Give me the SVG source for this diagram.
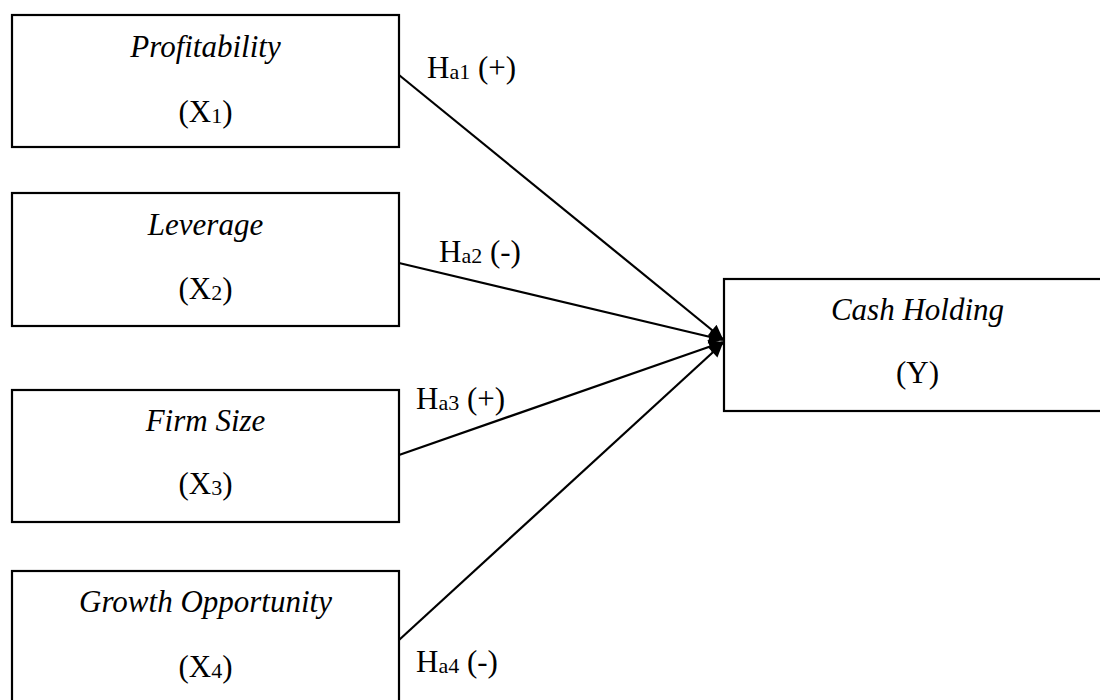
<svg xmlns="http://www.w3.org/2000/svg" width="1100" height="700" viewBox="0 0 1100 700">
<style>
.box{fill:#fff;stroke:#000;stroke-width:2.2}
.t{font-family:"Liberation Serif","Times New Roman",serif;font-size:31px;fill:#000;text-anchor:middle}
.it{font-style:italic}
.lbl{font-family:"Liberation Serif","Times New Roman",serif;font-size:31px;fill:#000}
.sub{font-size:22px}
.conn{stroke:#000;stroke-width:2.2;fill:none;marker-end:url(#ah)}
</style>
<defs>
<marker id="ah" viewBox="0 0 10 10" refX="10" refY="5" markerWidth="17" markerHeight="14" markerUnits="userSpaceOnUse" orient="auto">
<path d="M0,0 L10,5 L0,10 z" fill="#000"/>
</marker>
</defs>
<rect width="1100" height="700" fill="#fff"/>
<g id="connectors">
<line class="conn" x1="399" y1="75" x2="723" y2="339"/>
<line class="conn" x1="399" y1="263" x2="723" y2="340"/>
<line class="conn" x1="399" y1="455" x2="723" y2="342"/>
<line class="conn" x1="399" y1="640" x2="723" y2="343"/>
<text class="lbl" x="427" y="78">H<tspan class="sub" dy="1">a1</tspan><tspan dy="-1"> (+)</tspan></text>
<text class="lbl" x="439" y="262">H<tspan class="sub" dy="1">a2</tspan><tspan dy="-1"> (-)</tspan></text>
<text class="lbl" x="416" y="409">H<tspan class="sub" dy="1">a3</tspan><tspan dy="-1"> (+)</tspan></text>
<text class="lbl" x="416" y="672">H<tspan class="sub" dy="1">a4</tspan><tspan dy="-1"> (-)</tspan></text>
</g>
<g id="node-x1">
<rect class="box" x="12" y="15" width="387" height="132"/>
<text class="t it" x="205.5" y="57">Profitability</text>
<text class="t" x="205.5" y="122">(X<tspan class="sub" dy="1">1</tspan><tspan dy="-1">)</tspan></text>
</g>
<g id="node-x2">
<rect class="box" x="12" y="193" width="387" height="133"/>
<text class="t it" x="205.5" y="235">Leverage</text>
<text class="t" x="205.5" y="299">(X<tspan class="sub" dy="1">2</tspan><tspan dy="-1">)</tspan></text>
</g>
<g id="node-x3">
<rect class="box" x="12" y="390" width="387" height="132"/>
<text class="t it" x="205.5" y="431">Firm Size</text>
<text class="t" x="205.5" y="494">(X<tspan class="sub" dy="1">3</tspan><tspan dy="-1">)</tspan></text>
</g>
<g id="node-x4">
<rect class="box" x="12" y="571" width="387" height="140"/>
<text class="t it" x="205.5" y="612">Growth Opportunity</text>
<text class="t" x="205.5" y="677">(X<tspan class="sub" dy="1">4</tspan><tspan dy="-1">)</tspan></text>
</g>
<g id="node-y">
<rect class="box" x="724" y="279" width="400" height="132"/>
<text class="t it" x="917.5" y="320">Cash Holding</text>
<text class="t" x="917.5" y="383">(Y)</text>
</g>
</svg>
